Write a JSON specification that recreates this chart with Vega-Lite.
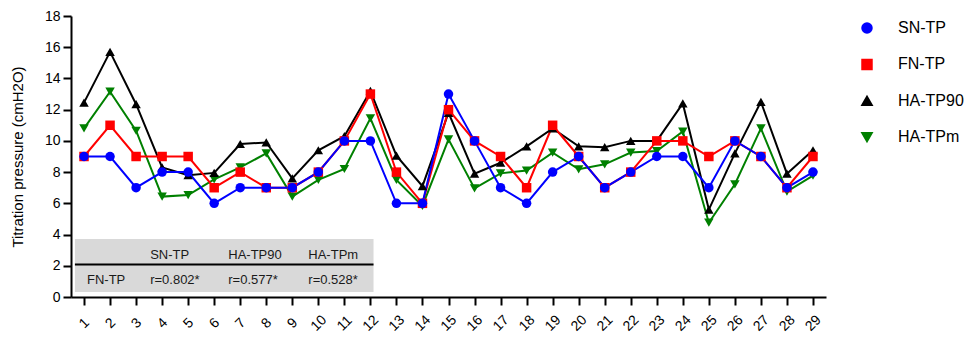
{
  "$schema": "https://vega.github.io/schema/vega-lite/v6.json",
  "autosize": {"type": "none"},
  "padding": {"left": 71, "top": 16, "right": 145, "bottom": 42},
  "width": 755,
  "height": 281,
  "background": "white",
  "config": {
    "font": "Liberation Sans",
    "view": {"stroke": null},
    "axis": {"grid": false, "domainColor": "black", "domainWidth": 2, "tickColor": "black", "tickWidth": 2, "tickSize": 8, "labelColor": "black", "titleColor": "black", "labelFont": "Liberation Sans", "titleFont": "Liberation Sans"},
    "legend": {
      "title": null, "orient": "right", "offset": 29, "padding": 4,
      "symbolSize": 90, "symbolStrokeWidth": 2, "symbolOpacity": 1, "labelFontSize": 16, "labelFont": "Liberation Sans", "labelColor": "black", "labelOffset": 23, "rowPadding": 18.4
    }
  },
  "datasets": {
    "series": [
      {"id": 1, "series": "HA-TPm", "value": 10.8}, {"id": 2, "series": "HA-TPm", "value": 13.15}, {"id": 3, "series": "HA-TPm", "value": 10.65}, {"id": 4, "series": "HA-TPm", "value": 6.43}, {"id": 5, "series": "HA-TPm", "value": 6.53}, {"id": 6, "series": "HA-TPm", "value": 7.54}, {"id": 7, "series": "HA-TPm", "value": 8.3}, {"id": 8, "series": "HA-TPm", "value": 9.2}, {"id": 9, "series": "HA-TPm", "value": 6.43}, {"id": 10, "series": "HA-TPm", "value": 7.5}, {"id": 11, "series": "HA-TPm", "value": 8.2}, {"id": 12, "series": "HA-TPm", "value": 11.45}, {"id": 13, "series": "HA-TPm", "value": 7.5}, {"id": 14, "series": "HA-TPm", "value": 5.83}, {"id": 15, "series": "HA-TPm", "value": 10.1}, {"id": 16, "series": "HA-TPm", "value": 6.96}, {"id": 17, "series": "HA-TPm", "value": 7.92}, {"id": 18, "series": "HA-TPm", "value": 8.1}, {"id": 19, "series": "HA-TPm", "value": 9.25}, {"id": 20, "series": "HA-TPm", "value": 8.18}, {"id": 21, "series": "HA-TPm", "value": 8.5}, {"id": 22, "series": "HA-TPm", "value": 9.25}, {"id": 23, "series": "HA-TPm", "value": 9.35}, {"id": 24, "series": "HA-TPm", "value": 10.6}, {"id": 25, "series": "HA-TPm", "value": 4.76}, {"id": 26, "series": "HA-TPm", "value": 7.22}, {"id": 27, "series": "HA-TPm", "value": 10.8}, {"id": 28, "series": "HA-TPm", "value": 6.75}, {"id": 29, "series": "HA-TPm", "value": 7.77},
      {"id": 1, "series": "HA-TP90", "value": 12.45}, {"id": 2, "series": "HA-TP90", "value": 15.7}, {"id": 3, "series": "HA-TP90", "value": 12.35}, {"id": 4, "series": "HA-TP90", "value": 8.3}, {"id": 5, "series": "HA-TP90", "value": 7.8}, {"id": 6, "series": "HA-TP90", "value": 7.95}, {"id": 7, "series": "HA-TP90", "value": 9.8}, {"id": 8, "series": "HA-TP90", "value": 9.9}, {"id": 9, "series": "HA-TP90", "value": 7.6}, {"id": 10, "series": "HA-TP90", "value": 9.4}, {"id": 11, "series": "HA-TP90", "value": 10.3}, {"id": 12, "series": "HA-TP90", "value": 13.2}, {"id": 13, "series": "HA-TP90", "value": 9.05}, {"id": 14, "series": "HA-TP90", "value": 7.1}, {"id": 15, "series": "HA-TP90", "value": 11.8}, {"id": 16, "series": "HA-TP90", "value": 7.9}, {"id": 17, "series": "HA-TP90", "value": 8.6}, {"id": 18, "series": "HA-TP90", "value": 9.65}, {"id": 19, "series": "HA-TP90", "value": 10.8}, {"id": 20, "series": "HA-TP90", "value": 9.65}, {"id": 21, "series": "HA-TP90", "value": 9.6}, {"id": 22, "series": "HA-TP90", "value": 10}, {"id": 23, "series": "HA-TP90", "value": 10}, {"id": 24, "series": "HA-TP90", "value": 12.4}, {"id": 25, "series": "HA-TP90", "value": 5.6}, {"id": 26, "series": "HA-TP90", "value": 9.2}, {"id": 27, "series": "HA-TP90", "value": 12.5}, {"id": 28, "series": "HA-TP90", "value": 7.9}, {"id": 29, "series": "HA-TP90", "value": 9.4},
      {"id": 1, "series": "FN-TP", "value": 9}, {"id": 2, "series": "FN-TP", "value": 11}, {"id": 3, "series": "FN-TP", "value": 9}, {"id": 4, "series": "FN-TP", "value": 9}, {"id": 5, "series": "FN-TP", "value": 9}, {"id": 6, "series": "FN-TP", "value": 7}, {"id": 7, "series": "FN-TP", "value": 8}, {"id": 8, "series": "FN-TP", "value": 7}, {"id": 9, "series": "FN-TP", "value": 7}, {"id": 10, "series": "FN-TP", "value": 8}, {"id": 11, "series": "FN-TP", "value": 10}, {"id": 12, "series": "FN-TP", "value": 13}, {"id": 13, "series": "FN-TP", "value": 8}, {"id": 14, "series": "FN-TP", "value": 6}, {"id": 15, "series": "FN-TP", "value": 12}, {"id": 16, "series": "FN-TP", "value": 10}, {"id": 17, "series": "FN-TP", "value": 9}, {"id": 18, "series": "FN-TP", "value": 7}, {"id": 19, "series": "FN-TP", "value": 11}, {"id": 20, "series": "FN-TP", "value": 9}, {"id": 21, "series": "FN-TP", "value": 7}, {"id": 22, "series": "FN-TP", "value": 8}, {"id": 23, "series": "FN-TP", "value": 10}, {"id": 24, "series": "FN-TP", "value": 10}, {"id": 25, "series": "FN-TP", "value": 9}, {"id": 26, "series": "FN-TP", "value": 10}, {"id": 27, "series": "FN-TP", "value": 9}, {"id": 28, "series": "FN-TP", "value": 7}, {"id": 29, "series": "FN-TP", "value": 9},
      {"id": 1, "series": "SN-TP", "value": 9}, {"id": 2, "series": "SN-TP", "value": 9}, {"id": 3, "series": "SN-TP", "value": 7}, {"id": 4, "series": "SN-TP", "value": 8}, {"id": 5, "series": "SN-TP", "value": 8}, {"id": 6, "series": "SN-TP", "value": 6}, {"id": 7, "series": "SN-TP", "value": 7}, {"id": 8, "series": "SN-TP", "value": 7}, {"id": 9, "series": "SN-TP", "value": 7}, {"id": 10, "series": "SN-TP", "value": 8}, {"id": 11, "series": "SN-TP", "value": 10}, {"id": 12, "series": "SN-TP", "value": 10}, {"id": 13, "series": "SN-TP", "value": 6}, {"id": 14, "series": "SN-TP", "value": 6}, {"id": 15, "series": "SN-TP", "value": 13}, {"id": 16, "series": "SN-TP", "value": 10}, {"id": 17, "series": "SN-TP", "value": 7}, {"id": 18, "series": "SN-TP", "value": 6}, {"id": 19, "series": "SN-TP", "value": 8}, {"id": 20, "series": "SN-TP", "value": 9}, {"id": 21, "series": "SN-TP", "value": 7}, {"id": 22, "series": "SN-TP", "value": 8}, {"id": 23, "series": "SN-TP", "value": 9}, {"id": 24, "series": "SN-TP", "value": 9}, {"id": 25, "series": "SN-TP", "value": 7}, {"id": 26, "series": "SN-TP", "value": 10}, {"id": 27, "series": "SN-TP", "value": 9}, {"id": 28, "series": "SN-TP", "value": 7}, {"id": 29, "series": "SN-TP", "value": 8}
    ],
    "tablebox": [{"x": 0.65, "x2": 12.12, "y": 0.32, "y2": 3.72}],
    "tableline": [{"x": 0.65, "x2": 12.12, "y": 2.08}],
    "tabletext": [
      {"text": "SN-TP", "x": 3.54, "y": 2.69},
      {"text": "HA-TP90", "x": 6.54, "y": 2.69},
      {"text": "HA-TPm", "x": 9.615, "y": 2.69},
      {"text": "FN-TP", "x": 1.115, "y": 1.09},
      {"text": "r=0.802*", "x": 3.54, "y": 1.09},
      {"text": "r=0.577*", "x": 6.54, "y": 1.09},
      {"text": "r=0.528*", "x": 9.615, "y": 1.09}
    ]
  },
  "layer": [
    {
      "data": {"name": "tablebox"},
      "mark": {"type": "rect", "fill": "#d9d9d9"},
      "encoding": {
        "x": {"field": "x", "type": "quantitative", "scale": {"domain": [0.5, 29.5], "nice": false, "zero": false}, "axis": {"values": [1,2,3,4,5,6,7,8,9,10,11,12,13,14,15,16,17,18,19,20,21,22,23,24,25,26,27,28,29], "tickCount": 40, "format": "d", "title": null, "labelAngle": -45, "labelAlign": "center", "labelBaseline": "middle", "labelPadding": 18, "labelFontSize": 14, "labelFlush": false, "labelOverlap": false}},
        "x2": {"field": "x2"},
        "y": {"field": "y", "type": "quantitative", "scale": {"domain": [0, 18], "nice": false}, "axis": {"values": [0,2,4,6,8,10,12,14,16,18], "tickCount": 40, "format": "d", "title": "Titration  pressure (cmH2O)", "titleFontSize": 15, "titleFontWeight": "normal", "titlePadding": 19, "labelFontSize": 14, "labelPadding": 3, "labelOverlap": false, "labelFlush": false}},
        "y2": {"field": "y2"}
      }
    },
    {
      "data": {"name": "tableline"},
      "mark": {"type": "rule", "color": "black", "strokeWidth": 2},
      "encoding": {
        "x": {"field": "x", "type": "quantitative"},
        "x2": {"field": "x2"},
        "y": {"field": "y", "type": "quantitative"}
      }
    },
    {
      "data": {"name": "tabletext"},
      "mark": {"type": "text", "align": "left", "baseline": "middle", "fontSize": 13, "color": "#1a1a1a"},
      "encoding": {
        "x": {"field": "x", "type": "quantitative"},
        "y": {"field": "y", "type": "quantitative"},
        "text": {"field": "text"}
      }
    },
    {
      "data": {"name": "series"},
      "mark": {"type": "line", "strokeWidth": 2},
      "encoding": {
        "x": {"field": "id", "type": "quantitative"},
        "y": {"field": "value", "type": "quantitative"},
        "color": {"field": "series", "type": "nominal", "scale": {"domain": ["SN-TP", "FN-TP", "HA-TP90", "HA-TPm"], "range": ["#0000ff", "#ff0000", "#000000", "#008000"]}},
        "detail": {"field": "series"}
      }
    },
    {
      "data": {"name": "series"},
      "mark": {"type": "point", "filled": true, "opacity": 1, "size": 90},
      "encoding": {
        "x": {"field": "id", "type": "quantitative"},
        "y": {"field": "value", "type": "quantitative"},
        "color": {"field": "series", "type": "nominal"},
        "shape": {"field": "series", "type": "nominal", "scale": {"domain": ["SN-TP", "FN-TP", "HA-TP90", "HA-TPm"], "range": ["circle", "square", "triangle-up", "triangle-down"]}}
      }
    }
  ]
}
